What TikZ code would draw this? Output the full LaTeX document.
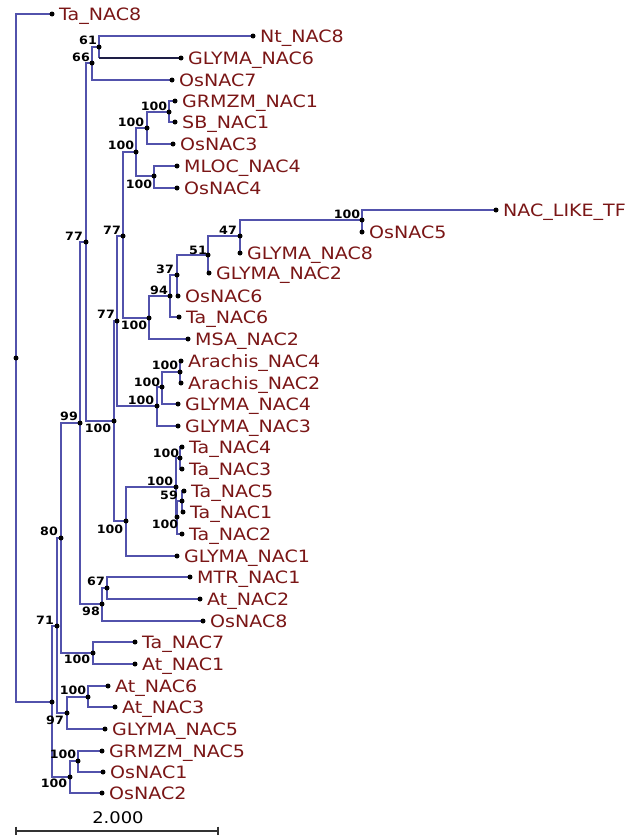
\documentclass[tikz,border=0pt]{standalone}
\usepackage{fontspec}
\newfontfamily\tipfont[FakeStretch=1.12]{DejaVu Sans}
\newfontfamily\bsfont[FakeStretch=1.1]{DejaVu Sans Bold}
\definecolor{branch}{RGB}{82,82,172}
\definecolor{darkbranch}{RGB}{30,30,70}
\definecolor{tipred}{RGB}{122,22,22}
\tikzset{
  br/.style={draw=branch, line width=1.3pt},
  dbr/.style={draw=darkbranch, line width=1.8pt},
  tiplab/.style={anchor=base west, inner sep=0pt, xshift=7pt, yshift=-6pt, text=tipred, font=\tipfont\fontsize{17}{17}\selectfont},
  bs/.style={anchor=center, inner sep=0pt, text=black, font=\bsfont\fontsize{11.5}{11.5}\selectfont},
  dotmark/.style={fill=black, circle, inner sep=0pt, minimum size=5pt},
}
\begin{document}
\begin{tikzpicture}[x=1pt, y=-1pt]
\useasboundingbox (0,0) rectangle (641,835);
% internal nodes
\coordinate (root) at (16,358);
\coordinate (n702) at (52,702);
\coordinate (n71) at (57,626);
\coordinate (n80) at (61,538);
\coordinate (n99) at (80,423);
\coordinate (n77a) at (86,242);
\coordinate (n66) at (92,63);
\coordinate (n61) at (99,47);
\coordinate (n100a) at (114,421);
\coordinate (n77c) at (117,321);
\coordinate (n77b) at (123,236);
\coordinate (n136) at (136,152);
\coordinate (n147) at (147,128);
\coordinate (n169) at (169,112);
\coordinate (n154) at (154,176);
\coordinate (n149) at (149,318);
\coordinate (n94) at (170,296);
\coordinate (n37) at (177,275);
\coordinate (n51) at (208,255);
\coordinate (n47) at (240,236);
\coordinate (n362) at (362,220);
\coordinate (n157) at (157,406);
\coordinate (n162) at (162,387);
\coordinate (n180) at (180,372);
\coordinate (n126) at (126,521);
\coordinate (n176) at (176,487);
\coordinate (n180b) at (180,458);
\coordinate (n177) at (177,517);
\coordinate (n59) at (182,501);
\coordinate (n102) at (102,604);
\coordinate (n107) at (107,588);
\coordinate (n93) at (93,653);
\coordinate (n67) at (67,713);
\coordinate (n88) at (88,697);
\coordinate (n70) at (70,777);
\coordinate (n78) at (78,761);
% tips
\coordinate (tTa8) at (52,14);
\coordinate (tNt) at (253,36);
\coordinate (tGly6) at (181,58);
\coordinate (tOs7) at (172,80);
\coordinate (tGRMZM1) at (175,101);
\coordinate (tSB1) at (175,122);
\coordinate (tOs3) at (173,144);
\coordinate (tMLOC4) at (177,166);
\coordinate (tOs4) at (177,188);
\coordinate (tNACLIKE) at (496,210);
\coordinate (tOs5) at (362,232);
\coordinate (tGly8) at (240,253);
\coordinate (tGly2) at (209,273);
\coordinate (tOs6) at (178,296);
\coordinate (tTa6) at (179,317);
\coordinate (tMSA2) at (188,339);
\coordinate (tAr4) at (181,361);
\coordinate (tAr2) at (181,383);
\coordinate (tGly4) at (178,404);
\coordinate (tGly3) at (178,426);
\coordinate (tTa4) at (182,447);
\coordinate (tTa3) at (182,469);
\coordinate (tTa5) at (184,491);
\coordinate (tTa1) at (183,512);
\coordinate (tTa2) at (182,534);
\coordinate (tGly1) at (177,556);
\coordinate (tMTR1) at (190,577);
\coordinate (tAt2) at (200,599);
\coordinate (tOs8) at (203,621);
\coordinate (tTa7) at (135,642);
\coordinate (tAt1) at (135,664);
\coordinate (tAt6) at (108,686);
\coordinate (tAt3) at (115,707);
\coordinate (tGly5) at (105,729);
\coordinate (tGRMZM5) at (102,751);
\coordinate (tOs1) at (103,772);
\coordinate (tOs2) at (102,793);
% branches
\foreach \p/\c in {root/tTa8, root/n702, n702/n71, n702/n70, n71/n80, n71/n67,
  n80/n99, n80/n93, n99/n77a, n99/n102, n77a/n66, n77a/n100a, n66/n61, n66/tOs7,
  n61/tNt, n100a/n77c, n100a/n126, n77c/n77b, n77c/n157, n77b/n136, n77b/n149,
  n136/n147, n136/n154, n147/n169, n147/tOs3, n169/tGRMZM1, n169/tSB1,
  n154/tMLOC4, n154/tOs4, n149/n94, n149/tMSA2, n94/n37, n94/tTa6, n37/n51, n37/tOs6,
  n51/n47, n51/tGly2, n47/n362, n47/tGly8, n362/tNACLIKE, n362/tOs5,
  n157/n162, n157/tGly3, n162/n180, n162/tGly4, n180/tAr4, n180/tAr2,
  n126/n176, n126/tGly1, n176/n180b, n176/n177, n180b/tTa4, n180b/tTa3,
  n177/n59, n177/tTa2, n59/tTa5, n59/tTa1, n102/n107, n102/tOs8, n107/tMTR1, n107/tAt2,
  n93/tTa7, n93/tAt1, n67/n88, n67/tGly5, n88/tAt6, n88/tAt3, n70/n78, n70/tOs2,
  n78/tGRMZM5, n78/tOs1}
  \draw[br] (\p) |- (\c);
\draw[br] (n61) -- (n61 |- tGly6);
\draw[dbr] (n61 |- tGly6) -- (tGly6);
% dots
\foreach \n in {root,n702,n71,n80,n99,n77a,n66,n61,n100a,n77c,n77b,n136,n147,n169,n154,
  n149,n94,n37,n51,n47,n362,n157,n162,n180,n126,n176,n180b,n177,n59,n102,n107,n93,
  n67,n88,n70,n78,
  tTa8,tNt,tGly6,tOs7,tGRMZM1,tSB1,tOs3,tMLOC4,tOs4,tNACLIKE,tOs5,tGly8,tGly2,tOs6,
  tTa6,tMSA2,tAr4,tAr2,tGly4,tGly3,tTa4,tTa3,tTa5,tTa1,tTa2,tGly1,tMTR1,tAt2,tOs8,
  tTa7,tAt1,tAt6,tAt3,tGly5,tGRMZM5,tOs1,tOs2}
  \node[dotmark] (d-\n) at (\n) {};
% tip labels
\foreach \t/\l in {tTa8/Ta\_NAC8, tNt/Nt\_NAC8, tGly6/GLYMA\_NAC6, tOs7/OsNAC7,
  tGRMZM1/GRMZM\_NAC1, tSB1/SB\_NAC1, tOs3/OsNAC3, tMLOC4/MLOC\_NAC4, tOs4/OsNAC4,
  tNACLIKE/NAC\_LIKE\_TF, tOs5/OsNAC5, tGly8/GLYMA\_NAC8, tGly2/GLYMA\_NAC2,
  tOs6/OsNAC6, tTa6/Ta\_NAC6, tMSA2/MSA\_NAC2, tAr4/Arachis\_NAC4, tAr2/Arachis\_NAC2,
  tGly4/GLYMA\_NAC4, tGly3/GLYMA\_NAC3, tTa4/Ta\_NAC4, tTa3/Ta\_NAC3, tTa5/Ta\_NAC5,
  tTa1/Ta\_NAC1, tTa2/Ta\_NAC2, tGly1/GLYMA\_NAC1, tMTR1/MTR\_NAC1, tAt2/At\_NAC2,
  tOs8/OsNAC8, tTa7/Ta\_NAC7, tAt1/At\_NAC1, tAt6/At\_NAC6, tAt3/At\_NAC3,
  tGly5/GLYMA\_NAC5, tGRMZM5/GRMZM\_NAC5, tOs1/OsNAC1, tOs2/OsNAC2}
  \node[tiplab] (l-\t) at (\t) {\l};
% bootstrap values
\foreach \x/\y/\v [count=\i] in {88/40/61, 81/57/66, 154/106/100, 131/122/100, 121/145/100,
  139/184/100, 112/230/77, 74/236/77, 347/214/100, 228/230/47, 198/250/51, 165/269/37,
  159/290/94, 106/314/77, 134/325/100, 165/365/100, 147/382/100, 141/400/100,
  69/416/99, 98/428/100, 166/453/100, 160/481/100, 169/495/59, 165/524/100,
  110/529/100, 49/531/80, 96/581/67, 91/611/98, 45/620/71, 77/659/100, 73/690/100,
  55/720/97, 63/754/100, 54/783/100}
  \node[bs] (b\i) at (\x,\y) {\v};
% scale bar
\coordinate (sL) at (16,831);
\coordinate (sR) at (218,831);
\draw[draw=black!80, line width=1.2pt] ([yshift=4.5pt]sL) -- ([yshift=-4.5pt]sL)
  (sL) -- (sR) ([yshift=4.5pt]sR) -- ([yshift=-4.5pt]sR);
\node[anchor=center, inner sep=0pt, font=\tipfont\fontsize{16}{16}\selectfont] (scl) at (118,818) {2.000};
\end{tikzpicture}
\end{document}
